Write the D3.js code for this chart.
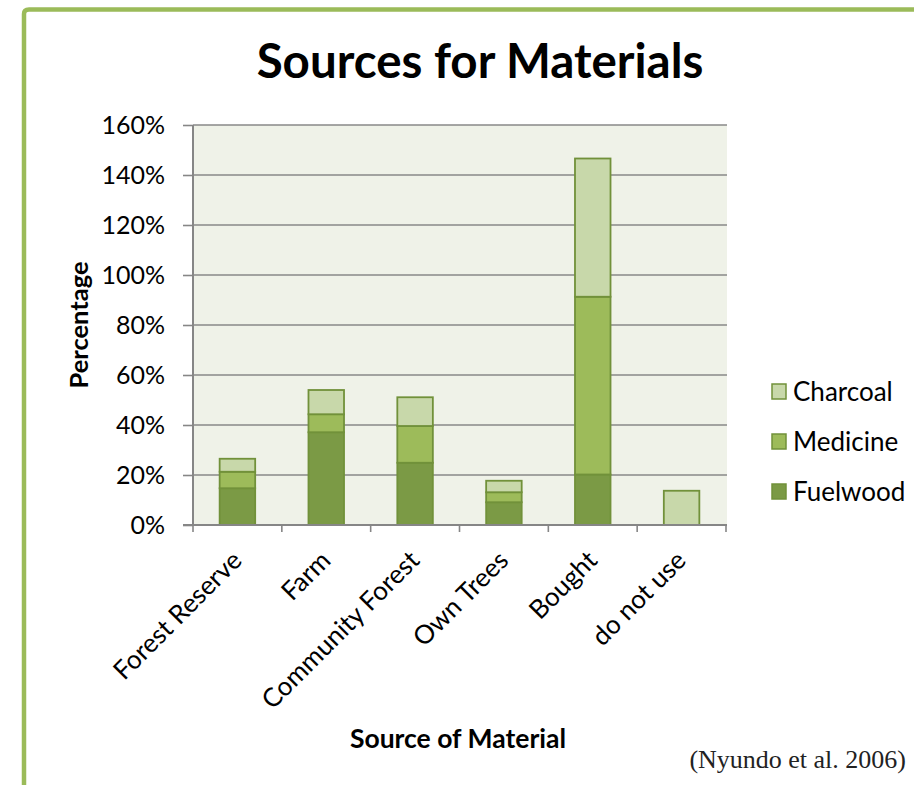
<!DOCTYPE html>
<html><head><meta charset="utf-8">
<script src="https://cdn.jsdelivr.net/npm/d3@7"></script>
<style>html,body{margin:0;padding:0;background:#fff;}svg{display:block;}</style>
</head><body>
<script>
const categories = ["Forest Reserve","Farm","Community Forest","Own Trees","Bought","do not use"];
const seriesNames = ["Fuelwood","Medicine","Charcoal"];
const fuelwood = [14.7, 37.1, 24.9, 9.1, 20.2, 0];
const medicine = [6.6, 7.2, 14.7, 4.0, 71.1, 0];
const charcoal = [5.2, 9.7, 11.5, 4.6, 55.3, 13.7];
const yTicks = [0,20,40,60,80,100,120,140,160];
const colors = {Fuelwood:"#7b9a45", Medicine:"#9dbb5a", Charcoal:"#c8d8aa"};

const W = 914, H = 785;
const svg = d3.select("body").append("svg").attr("width",W).attr("height",H);
const font = "Lato, 'Open Sans', sans-serif";

// green frame
svg.append("path").attr("d","M24,785 V14 Q24,9.5 29,9.5 H914")
  .attr("fill","none").attr("stroke","#9bbb59").attr("stroke-width",4.5);

const plot = {left:193, right:726, top:125, bottom:525};
const x = d3.scaleBand().domain(categories).range([plot.left, plot.right]).paddingInner(0.6).paddingOuter(0.3);
const xb = d3.scaleBand().domain(categories).range([plot.left, plot.right]);
const y = d3.scaleLinear().domain([0,160]).range([plot.bottom, plot.top]);

svg.append("rect").attr("x",plot.left).attr("y",plot.top).attr("width",plot.right-plot.left+1).attr("height",plot.bottom-plot.top)
  .attr("fill","#eff2e8");

// gridlines
svg.append("g").selectAll("line").data(yTicks.filter(d=>d>0)).join("line")
  .attr("x1",plot.left).attr("x2",plot.right+1).attr("y1",d=>y(d)).attr("y2",d=>y(d))
  .attr("stroke","#888").attr("stroke-width",1.6);

// stacked bars
const table = categories.map((c,i)=>({cat:c, Fuelwood:fuelwood[i], Medicine:medicine[i], Charcoal:charcoal[i]}));
const stack = d3.stack().keys(seriesNames)(table);
svg.append("g").selectAll("g").data(stack).join("g")
  .attr("fill",d=>colors[d.key])
  .selectAll("rect").data(d=>d.filter(s=>s[1]-s[0]>0)).join("rect")
  .attr("x",d=>x(d.data.cat)).attr("width",x.bandwidth())
  .attr("y",d=>y(d[1])).attr("height",d=>y(d[0])-y(d[1]))
  .attr("stroke","#71913a").attr("stroke-width",1.8);

// y axis
const yAxis = d3.axisLeft(y).tickValues(yTicks).tickFormat(d=>d+"%").tickSize(10).tickPadding(18);
const ga = svg.append("g").attr("transform",`translate(${plot.left},0)`).call(yAxis);
ga.select(".domain").attr("stroke","#868686").attr("stroke-width",2).attr("d",`M0,${plot.top}V${plot.bottom}`);
ga.selectAll(".tick line").attr("stroke","#868686").attr("stroke-width",1.6);
ga.selectAll(".tick text").attr("font-family",font).attr("font-size",25).attr("fill","#000");

// x axis
const xg = svg.append("g").attr("transform",`translate(0,${plot.bottom})`);
xg.append("line").attr("x1",plot.left-10).attr("x2",plot.right+1).attr("stroke","#868686").attr("stroke-width",2);
const bounds = categories.map(c=>xb(c)).concat([plot.right]);
xg.selectAll("line.t").data(bounds).join("line").attr("class","t")
  .attr("x1",d=>d).attr("x2",d=>d).attr("y1",0).attr("y2",7).attr("stroke","#868686").attr("stroke-width",1.6);
xg.selectAll("text").data(categories).join("text")
  .attr("transform",d=>`translate(${xb(d)+xb.bandwidth()/2+6},${37}) rotate(-45)`)
  .attr("text-anchor","end").attr("font-family",font).attr("font-size",26).attr("fill","#000")
  .text(d=>d);

// title
svg.append("text").attr("x",480).attr("y",78).attr("text-anchor","middle")
  .attr("font-family",font).attr("font-weight","bold").attr("font-size",47.5).text("Sources for Materials");

// axis titles
svg.append("text").attr("transform","translate(88,325) rotate(-90)").attr("text-anchor","middle")
  .attr("font-family",font).attr("font-weight","bold").attr("font-size",25.5).text("Percentage");
svg.append("text").attr("x",458).attr("y",748).attr("text-anchor","middle")
  .attr("font-family",font).attr("font-weight","bold").attr("font-size",26.5).text("Source of Material");

// legend
const legendOrder = ["Charcoal","Medicine","Fuelwood"];
const lg = svg.append("g").selectAll("g").data(legendOrder).join("g")
  .attr("transform",(d,i)=>`translate(772,${384+i*50})`);
lg.append("rect").attr("width",14).attr("height",15).attr("fill",d=>colors[d]).attr("stroke","#71913a").attr("stroke-width",1.5);
lg.append("text").attr("x",21).attr("y",7.5).attr("dy","0.36em").attr("font-family",font).attr("font-size",26).text(d=>d);

// citation
svg.append("text").attr("x",906).attr("y",768).attr("text-anchor","end")
  .attr("font-family","'Liberation Serif','DejaVu Serif',serif").attr("font-size",26).attr("fill","#222").text("(Nyundo et al. 2006)");
</script>
</body></html>
